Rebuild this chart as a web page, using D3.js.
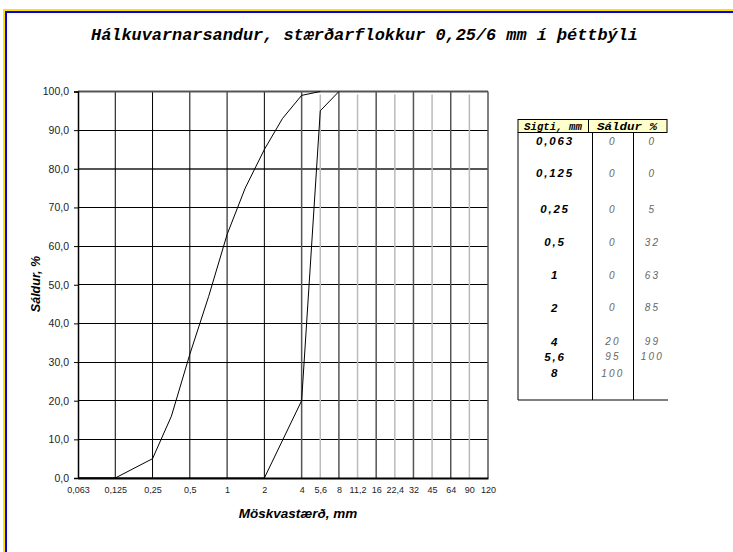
<!DOCTYPE html>
<html>
<head>
<meta charset="utf-8">
<script src="https://cdn.jsdelivr.net/npm/d3@7"></script>
<style>
  html, body { margin: 0; padding: 0; background: #fff; }
  svg { display: block; }
</style>
</head>
<body>
<svg id="chart" width="733" height="552"></svg>
<script>
// ---------- data ----------
const titleText = "Hálkuvarnarsandur, stærðarflokkur 0,25/6 mm í þéttbýli";
const xAxisTitle = "Möskvastærð, mm";
const yAxisTitle = "Sáldur, %";

const xTickValues = [0.063, 0.125, 0.25, 0.5, 1, 2, 4, 5.6, 8, 11.2, 16, 22.4, 32, 45, 64, 90, 120];
const xTickLabels = ["0,063", "0,125", "0,25", "0,5", "1", "2", "4", "5,6", "8", "11,2", "16", "22,4", "32", "45", "64", "90", "120"];
const xMinorTicks = [5.6, 11.2, 22.4, 45, 90];
const yTickValues = [0, 10, 20, 30, 40, 50, 60, 70, 80, 90, 100];

// coarse curve (left column of Sáldur %)
const coarseSieve = [0.063, 0.125, 0.25, 0.5, 1, 2, 4, 5.6, 8];
const coarsePass  = [0, 0, 0, 0, 0, 0, 20, 95, 100];
// fine curve (right column of Sáldur %), incl. intermediate sieves
const fineSieve = [0.063, 0.125, 0.25, 0.355, 0.5, 0.71, 1, 1.4, 2, 2.8, 4, 5.6];
const finePass  = [0, 0, 5, 16, 32, 47, 63, 75, 85, 93, 99, 100];

// table
const tableSieveLabels = ["0,063", "0,125", "0,25", "0,5", "1", "2", "4", "5,6", "8"];
const tableColA = ["0", "0", "0", "0", "0", "0", "20", "95", "100"];
const tableColB = ["0", "0", "5", "32", "63", "85", "99", "100", ""];
const tableHeaders = ["Sigti, mm", "Sáldur %"];

// ---------- layout ----------
const svg = d3.select("#chart");
const plot = { left: 78, right: 488, top: 91.5, bottom: 478 };
const rowCenters = [141, 173.3, 209, 242.3, 275, 307.7, 341.7, 356.7, 373.3];

// frame (only top and left visible)
svg.append("line").attr("x1", 3).attr("x2", 733).attr("y1", 10).attr("y2", 10).attr("stroke", "#FFE000").attr("stroke-width", 2);
svg.append("line").attr("x1", 4).attr("x2", 4).attr("y1", 9).attr("y2", 552).attr("stroke", "#FFE000").attr("stroke-width", 2);
svg.append("line").attr("x1", 5).attr("x2", 733).attr("y1", 12).attr("y2", 12).attr("stroke", "#0000EE").attr("stroke-width", 2);
svg.append("line").attr("x1", 6).attr("x2", 6).attr("y1", 11).attr("y2", 552).attr("stroke", "#0000EE").attr("stroke-width", 2);

// ---------- scales ----------
const nUnits = 6 + (xTickValues.length - 7) / 2;
const unitPx = (plot.right - plot.left) / nUnits;
const x = d3.scaleLog().base(2)
  .domain(xTickValues)
  .range(xTickValues.map((d, i) => plot.left + unitPx * (i <= 6 ? i : 6 + (i - 6) / 2)));
const y = d3.scaleLinear().domain([0, 100]).range([plot.bottom, plot.top]);

// ---------- grid ----------
const g = svg.append("g");
g.selectAll(".hgrid").data(yTickValues.filter(v => v > 0 && v < 100)).join("line")
  .attr("x1", plot.left).attr("x2", plot.right)
  .attr("y1", d => y(d)).attr("y2", d => y(d))
  .attr("stroke", d => d === 80 ? "#555" : "#000")
  .attr("stroke-width", d => d === 80 ? 1.6 : 1)
  .attr("shape-rendering", "crispEdges");

const vMajor = xTickValues.filter(v => !xMinorTicks.includes(v) && v > xTickValues[0] && v < 120);
g.selectAll(".vgrid").data(vMajor).join("line")
  .attr("x1", d => x(d)).attr("x2", d => x(d))
  .attr("y1", plot.top).attr("y2", plot.bottom)
  .attr("stroke", d => d >= 4 ? "#555" : "#000")
  .attr("stroke-width", d => d >= 4 ? 1.5 : 1);
g.selectAll(".vminor").data(xMinorTicks).join("line")
  .attr("x1", d => x(d)).attr("x2", d => x(d))
  .attr("y1", plot.top + 3).attr("y2", plot.bottom)
  .attr("stroke", "#bbb").attr("stroke-width", 1.5);

g.append("line").attr("x1", plot.left).attr("x2", plot.right).attr("y1", plot.top).attr("y2", plot.top)
  .attr("stroke", "#555").attr("stroke-width", 2);
g.append("line").attr("x1", plot.right).attr("x2", plot.right).attr("y1", plot.top).attr("y2", plot.bottom)
  .attr("stroke", "#555").attr("stroke-width", 1.5);

// ---------- axes ----------
const fmtY = v => d3.format(".1f")(v).replace(".", ",");
const yAxis = d3.axisLeft(y).tickValues(yTickValues).tickFormat(fmtY).tickSize(4).tickPadding(5);
const yG = svg.append("g").attr("transform", `translate(${plot.left},0)`).call(yAxis);
yG.select(".domain").attr("stroke", "#000").attr("stroke-width", 1.5);
yG.selectAll(".tick line").attr("stroke", "#000");
yG.selectAll("text").attr("font-family", "'Liberation Sans', Arial, sans-serif").attr("font-size", 10.5).attr("fill", "#222");

const xAxis = d3.axisBottom(x).tickValues(xTickValues).tickFormat((d, i) => xTickLabels[i]).tickSize(0).tickPadding(9);
const xG = svg.append("g").attr("transform", `translate(0,${plot.bottom})`).call(xAxis);
xG.select(".domain").attr("stroke", "#000").attr("stroke-width", 2.2);
xG.selectAll("text").attr("font-family", "'Liberation Sans', Arial, sans-serif").attr("font-size", 9).attr("fill", "#222");

// axis titles
svg.append("text")
  .attr("transform", `translate(40,${284}) rotate(-90)`)
  .attr("text-anchor", "middle")
  .attr("font-family", "'Liberation Sans', Arial, sans-serif")
  .attr("font-weight", "bold").attr("font-style", "italic").attr("font-size", 12.5)
  .text(yAxisTitle);
svg.append("text")
  .attr("x", 298).attr("y", 518)
  .attr("text-anchor", "middle")
  .attr("font-family", "'Liberation Sans', Arial, sans-serif")
  .attr("font-weight", "bold").attr("font-style", "italic").attr("font-size", 13.5)
  .text(xAxisTitle);

// title
svg.append("text")
  .attr("x", 91).attr("y", 40)
  .attr("font-family", "'Liberation Mono', 'Courier New', monospace")
  .attr("font-weight", "bold").attr("font-style", "italic").attr("font-size", 16)
  .attr("textLength", 547).attr("lengthAdjust", "spacingAndGlyphs")
  .text(titleText);

// ---------- curves ----------
const line = d3.line().x(d => x(d[0])).y(d => y(d[1]));
svg.append("path").datum(coarseSieve.map((s, i) => [s, coarsePass[i]]))
  .attr("d", line).attr("fill", "none").attr("stroke", "#000").attr("stroke-width", 1);
svg.append("path").datum(fineSieve.map((s, i) => [s, finePass[i]]))
  .attr("d", line).attr("fill", "none").attr("stroke", "#000").attr("stroke-width", 1);

// ---------- table ----------
const tb = { left: 518, right: 667, top: 119.5, headBottom: 132.5, bottom: 400, headDiv: 588.5, colDiv1: 592.5, colDiv2: 633.5 };
const t = svg.append("g");
t.append("rect").attr("x", tb.left).attr("y", tb.top).attr("width", tb.right - tb.left).attr("height", tb.headBottom - tb.top)
  .attr("fill", "#FFFFCC").attr("stroke", "#000").attr("stroke-width", 1);
t.append("line").attr("x1", tb.headDiv).attr("x2", tb.headDiv).attr("y1", tb.top).attr("y2", tb.headBottom).attr("stroke", "#000");
t.append("line").attr("x1", tb.left).attr("x2", tb.left).attr("y1", tb.headBottom).attr("y2", tb.bottom).attr("stroke", "#000");
t.append("line").attr("x1", tb.colDiv1).attr("x2", tb.colDiv1).attr("y1", tb.headBottom).attr("y2", tb.bottom).attr("stroke", "#000");
t.append("line").attr("x1", tb.colDiv2).attr("x2", tb.colDiv2).attr("y1", tb.headBottom).attr("y2", tb.bottom).attr("stroke", "#000");
t.append("line").attr("x1", tb.left).attr("x2", tb.right + 1).attr("y1", tb.bottom).attr("y2", tb.bottom).attr("stroke", "#000");

const headFont = "'Liberation Mono', 'Courier New', monospace";
[[553, 58], [627, 60]].forEach((p, i) => {
  t.append("text").attr("x", p[0] - p[1] / 2).attr("y", tb.top + 10)
    .attr("font-family", headFont).attr("font-weight", "bold").attr("font-style", "italic").attr("font-size", 11)
    .attr("textLength", p[1]).attr("lengthAdjust", "spacingAndGlyphs")
    .text(tableHeaders[i]);
});

t.selectAll(".c0").data(tableSieveLabels).join("text")
  .attr("x", 555).attr("y", (d, i) => rowCenters[i] + 4)
  .attr("text-anchor", "middle")
  .attr("font-family", "'Liberation Sans', Arial, sans-serif")
  .attr("font-weight", "bold").attr("font-style", "italic").attr("font-size", 11.5)
  .attr("letter-spacing", 1.8)
  .text(d => d);
t.selectAll(".c1").data(tableColA).join("text")
  .attr("x", 613).attr("y", (d, i) => rowCenters[i] + 3.5)
  .attr("text-anchor", "middle")
  .attr("font-family", "'Liberation Sans', Arial, sans-serif")
  .attr("font-style", "italic").attr("font-size", 10).attr("fill", "#666")
  .attr("letter-spacing", 2.2)
  .text(d => d);
t.selectAll(".c2").data(tableColB).join("text")
  .attr("x", 652.5).attr("y", (d, i) => rowCenters[i] + 3.5)
  .attr("text-anchor", "middle")
  .attr("font-family", "'Liberation Sans', Arial, sans-serif")
  .attr("font-style", "italic").attr("font-size", 10).attr("fill", "#666")
  .attr("letter-spacing", 2.2)
  .text(d => d);
</script>
</body>
</html>
